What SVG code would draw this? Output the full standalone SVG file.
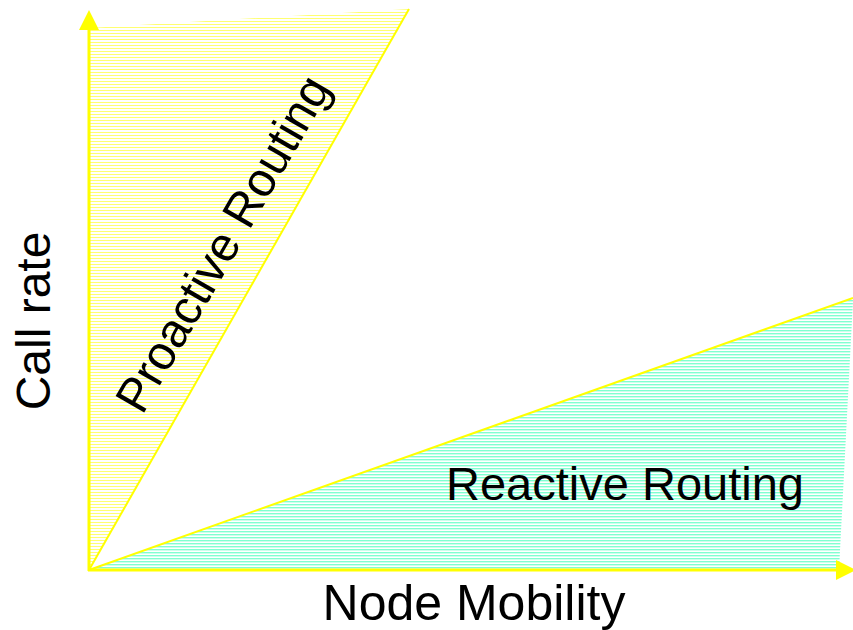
<svg xmlns="http://www.w3.org/2000/svg" width="853" height="630" viewBox="0 0 853 630">
  <defs>
    <pattern id="hatchY" patternUnits="userSpaceOnUse" x="0" y="0" width="10" height="3">
      <rect x="0" y="0" width="10" height="1" fill="#ffff70"/>
    </pattern>
    <pattern id="hatchG" patternUnits="userSpaceOnUse" x="0" y="0" width="10" height="3">
      <rect x="0" y="0" width="10" height="1.4" fill="#80ffd0"/>
    </pattern>
  </defs>
  <style>
    .lbl { font-family: "Liberation Sans", Arial, sans-serif; fill: #000; }
    .edge { stroke: #ffff00; fill: none; }
  </style>
  <rect width="853" height="630" fill="#ffffff"/>
  <g id="proactive">
    <polygon points="89,570 89,28 409,9" fill="url(#hatchY)"/>
    <line class="edge" x1="89" y1="570" x2="409" y2="9" stroke-width="2"/>
    <text class="lbl" font-size="48" text-anchor="middle" transform="translate(237,252) rotate(-60)">Proactive Routing</text>
  </g>
  <g id="reactive">
    <polygon points="89,570 853,298 853,300 839,570" fill="url(#hatchG)"/>
    <line class="edge" x1="89" y1="570" x2="853" y2="298" stroke-width="2"/>
    <text class="lbl" font-size="47" text-anchor="middle" x="625" y="500">Reactive Routing</text>
  </g>
  <g id="axes">
    <line class="edge" x1="89" y1="571" x2="89" y2="28" stroke-width="3"/>
    <polygon points="89,10 79,30 99,30" fill="#ffff00"/>
    <line class="edge" x1="88" y1="570" x2="838" y2="570" stroke-width="3"/>
    <polygon points="856,570 836,560 836,580" fill="#ffff00"/>
  </g>
  <g id="labels">
    <text class="lbl" font-size="50" text-anchor="middle" x="474" y="620">Node Mobility</text>
    <text class="lbl" font-size="48" text-anchor="middle" transform="translate(50,321) rotate(-90)">Call rate</text>
  </g>
</svg>
